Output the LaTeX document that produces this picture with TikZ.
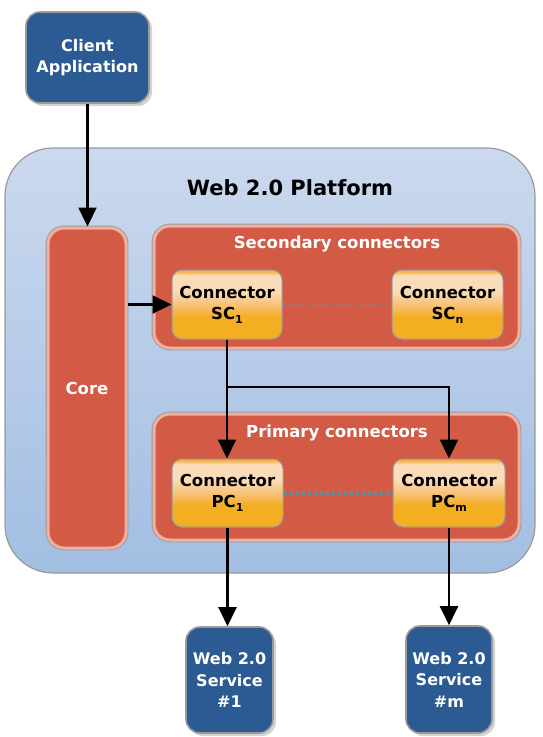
\documentclass[tikz,border=0pt]{standalone}
\usepackage{fontspec}
\setmainfont{DejaVu Sans}
\usetikzlibrary{arrows.meta,shadows,calc}

\definecolor{svcblue}{HTML}{2C5A93}
\definecolor{boxedge}{HTML}{9A9A9A}
\definecolor{corered}{HTML}{D35A45}
\definecolor{redglow}{HTML}{EDB0A3}
\definecolor{platTop}{HTML}{CBD9EE}
\definecolor{platBot}{HTML}{A2BEE2}
\definecolor{dotgray}{HTML}{6C8A94}
\definecolor{conbot}{HTML}{F3AE22}
\definecolor{conmid}{HTML}{F7C27A}
\definecolor{conlight}{HTML}{FBDCB8}
\definecolor{contop}{HTML}{F4B24A}

% orange connector fill: orange lower half, pale peach upper part, darker rim on top
\pgfdeclareverticalshading{connshade}{100bp}{%
  color(0bp)=(conbot); color(25bp)=(conbot); color(41bp)=(conbot);
  color(50bp)=(conmid); color(60bp)=(conlight); color(71bp)=(conlight);
  color(74bp)=(contop); color(75bp)=(contop); color(100bp)=(contop)}

\newcommand{\sub}[1]{\raisebox{-0.45ex}{\fontsize{11}{11}\selectfont #1}}

\tikzset{
  bluebox/.style={draw=boxedge, line width=1.6pt, fill=svcblue, rounded corners=14pt,
    text=white, font=\bfseries\fontsize{16}{21.5}\selectfont, align=center, inner sep=0pt,
    drop shadow={opacity=0.35, shadow xshift=3pt, shadow yshift=-3pt}},
  redbox/.style={fill=corered, draw=redglow, line width=3pt,
    preaction={draw=boxedge, line width=4.8pt}, rounded corners=16pt, inner sep=0pt,
    text=white, font=\bfseries\fontsize{16.5}{20}\selectfont},
  conn/.style={shading=connshade, draw=boxedge, line width=1pt, rounded corners=10pt,
    inner sep=0pt, align=center, font=\bfseries\fontsize{16.5}{21}\selectfont},
  arr/.style={line width=2.2pt, -{Triangle[length=19pt,width=18pt]}},
  dots/.style={draw=dotgray, line width=3.2pt, dash pattern=on 3.5pt off 2.5pt},
  grouptitle/.style={text=white, font=\bfseries\fontsize{16.5}{20}\selectfont, inner sep=0pt}
}

\begin{document}
\begin{tikzpicture}[x=1pt, y=-1pt]
\useasboundingbox (0,0) rectangle (542,737);

% platform background
\node[draw=boxedge, line width=1.2pt, top color=platTop, bottom color=platBot,
      rounded corners=48pt, minimum width=530pt, minimum height=425pt, inner sep=0pt]
      (platform) at (270,360.5) {};
\node[font=\bfseries\fontsize{21}{24}\selectfont, inner sep=0pt] (ptitle) at (290,188) {Web 2.0 Platform};

% client
\node[bluebox, minimum width=123pt, minimum height=91pt] (client) at (87.5,57.5)
  {Client\\Application};

% core
\node[redbox, minimum width=78pt, minimum height=320pt] (core) at (87,388) {Core};

% secondary connectors group
\node[redbox, minimum width=365pt, minimum height=122pt] (secgrp) at (336.5,287) {};
\node[grouptitle] (sectitle) at (337,244) {Secondary connectors};
\node[conn, minimum width=110pt, minimum height=69pt] (SC1) at (227,304.5)
  {Connector\\SC\sub{1}};
\node[conn, minimum width=111pt, minimum height=69pt] (SCn) at (447.5,304.5)
  {Connector\\SC\sub{n}};

% primary connectors group
\node[redbox, minimum width=365pt, minimum height=126pt] (prigrp) at (336.5,477) {};
\node[grouptitle] (prititle) at (337,433) {Primary connectors};
\node[conn, minimum width=111pt, minimum height=68pt] (PC1) at (227.5,493)
  {Connector\\PC\sub{1}};
\node[conn, minimum width=112pt, minimum height=68pt] (PCm) at (449,493)
  {Connector\\PC\sub{m}};

% web services
\node[bluebox, minimum width=87pt, minimum height=106pt] (WS1) at (229.5,680)
  {Web 2.0\\Service\\\#1};
\node[bluebox, minimum width=86pt, minimum height=107pt] (WSm) at (449,679.5)
  {Web 2.0\\Service\\\#m};

% dotted links between connectors
\draw[dots] (SC1.east) -- (SCn.west);
\draw[dots] (PC1.east) -- (PCm.west);

% arrows
\coordinate (splitrow) at (0,387);
\coordinate (split) at (SC1.south |- splitrow);
\draw[arr] (client.south) -- (client.south |- core.north);
\draw[arr] (core.east |- SC1.west) -- (SC1.west);
\draw[line width=2.2pt] (SC1.south) -- (split);
\draw[arr] (split) -- (split |- PC1.north);
\draw[arr] (split) -| (PCm.north);
\draw[arr] (PC1.south) -- (PC1.south |- WS1.north);
\draw[arr] (PCm.south) -- (PCm.south |- WSm.north);
\end{tikzpicture}
\end{document}
